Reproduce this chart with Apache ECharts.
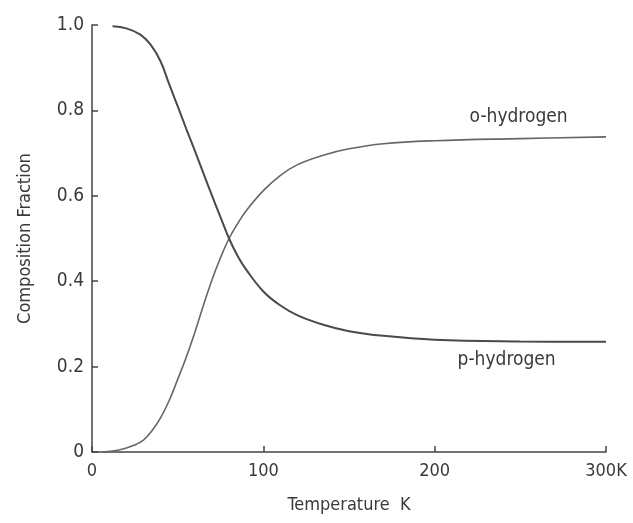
<!DOCTYPE html>
<html>
<head>
<meta charset="utf-8">
<script src="https://cdn.jsdelivr.net/npm/echarts@6/dist/echarts.min.js"></script>
<style>
  html, body {margin: 0; padding: 0; background: #fff;}
  #chart {width: 633px; height: 523px;}
</style>
</head>
<body>
<div id="chart"></div>
<script>
// values
const paraTemp = [12, 20, 28, 34, 40, 45, 50, 55, 60, 65, 70, 75, 80, 85, 90, 100, 110, 120, 135, 150, 170, 200, 250, 300];
const paraFrac = [0.997, 0.992, 0.978, 0.955, 0.915, 0.862, 0.81, 0.757, 0.706, 0.653, 0.601, 0.55, 0.5, 0.459, 0.427, 0.376, 0.343, 0.32, 0.298, 0.283, 0.272, 0.263, 0.259, 0.258];
const orthoTemp = [6, 12, 18, 24, 30, 35, 40, 45, 50, 55, 60, 65, 70, 75, 80, 85, 90, 100, 110, 120, 135, 150, 170, 200, 250, 300];
const orthoFrac = [0, 0.002, 0.007, 0.015, 0.028, 0.05, 0.08, 0.12, 0.17, 0.222, 0.28, 0.343, 0.403, 0.455, 0.5, 0.535, 0.565, 0.612, 0.648, 0.673, 0.695, 0.71, 0.722, 0.729, 0.734, 0.738];
const curveNames = ['o-hydrogen', 'p-hydrogen'];
const labelAt = [[249, 0.785], [242, 0.215]];

const font = 'DejaVu Sans Condensed';
const ink = '#3a3a3a';

const myChart = echarts.init(document.getElementById('chart'));

const zip = (xs, ys) => xs.map((x, i) => [x, ys[i]]);

myChart.setOption({
  animation: false,
  backgroundColor: '#fff',
  grid: {left: 92, right: 27, top: 25, bottom: 71},
  xAxis: {
    type: 'value',
    min: 0,
    max: 300,
    interval: 100,
    name: 'Temperature  K',
    nameLocation: 'middle',
    nameGap: 44,
    nameTextStyle: {color: ink, fontFamily: font, fontSize: 18},
    axisLine: {lineStyle: {color: '#444', width: 1.5}},
    axisTick: {inside: true, length: 6, lineStyle: {color: '#444', width: 1.5}},
    axisLabel: {
      color: ink, fontFamily: font, fontSize: 18, margin: 10,
      formatter: v => v === 300 ? '300K' : String(v)
    },
    splitLine: {show: false}
  },
  yAxis: {
    type: 'value',
    min: 0,
    max: 1,
    interval: 0.2,
    name: 'Composition Fraction',
    nameLocation: 'middle',
    nameGap: 58,
    nameTextStyle: {color: ink, fontFamily: font, fontSize: 18},
    axisLine: {lineStyle: {color: '#444', width: 1.5}},
    axisTick: {inside: true, length: 6, lineStyle: {color: '#444', width: 1.5}},
    axisLabel: {
      color: ink, fontFamily: font, fontSize: 19, margin: 8,
      formatter: v => v === 0 ? '0' : v.toFixed(1)
    },
    splitLine: {show: false}
  },
  series: [
    {name: curveNames[0], data: zip(orthoTemp, orthoFrac), color: '#666', width: 1.6, at: labelAt[0]},
    {name: curveNames[1], data: zip(paraTemp, paraFrac), color: '#4a4a4a', width: 2, at: labelAt[1]}
  ].map(s => ({
    name: s.name,
    type: 'line',
    smooth: 0.4,
    symbol: 'none',
    data: s.data,
    lineStyle: {color: s.color, width: s.width},
    markPoint: {
      symbol: 'circle',
      symbolSize: 0,
      data: [{coord: s.at}],
      label: {
        show: true,
        position: 'inside',
        formatter: s.name,
        color: ink,
        fontFamily: font,
        fontSize: 19
      }
    }
  }))
});
</script>
</body>
</html>
